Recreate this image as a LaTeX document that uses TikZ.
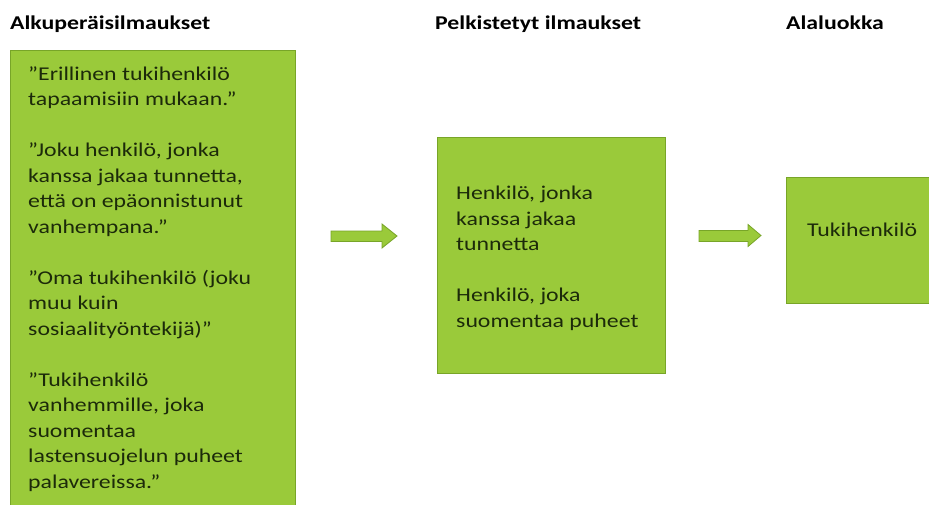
\documentclass[tikz,border=0pt]{standalone}
\usepackage{fontspec}
\setmainfont{Carlito}[FakeStretch=1.22]
\definecolor{boxgreen}{RGB}{154,202,58}
\definecolor{boxline}{RGB}{120,165,40}
\definecolor{textdark}{RGB}{28,42,10}
\begin{document}
\begin{tikzpicture}[x=1pt,y=-1pt,
  box/.style={draw=boxline, fill=boxgreen, line width=1pt},
  blockarrow/.style={draw=boxline, fill=boxgreen, line width=0.8pt, line join=miter},
  body/.style={anchor=base west, inner sep=0pt, align=left, text=textdark,
    font=\fontsize{19.5}{25.5}\selectfont},
  head/.style={anchor=base west, inner sep=0pt, text=black,
    font=\bfseries\fontsize{19.5}{24}\selectfont}]
\useasboundingbox (0,0) rectangle (929,504);
\clip (0,0) rectangle (929,504);
\fill[white] (0,0) rectangle (929,504);
% headers
\node[head] (h1) at (10,29) {Alkuperäisilmaukset};
\node[head] (h2) at (435,29) {Pelkistetyt ilmaukset};
\node[head] (h3) at (786,29) {Alaluokka};
% boxes
\draw[box] (10,50) rectangle (295,520);
\draw[box] (437,137) rectangle (665,373);
\draw[box] (786,177) rectangle (940,303);
% texts (anchored at the baseline of their last line)
\node[body] (t1) at (28,488) {”Erillinen tukihenkilö\\
tapaamisiin mukaan.”\\[25.5pt]
”Joku henkilö, jonka\\
kanssa jakaa tunnetta,\\
että on epäonnistunut\\
vanhempana.”\\[25.5pt]
”Oma tukihenkilö (joku\\
muu kuin\\
sosiaalityöntekijä)”\\[25.5pt]
”Tukihenkilö\\
vanhemmille, joka\\
suomentaa\\
lastensuojelun puheet\\
palavereissa.”};
\node[body] (t2) at (456,327) {Henkilö, jonka\\
kanssa jakaa\\
tunnetta\\[25.5pt]
Henkilö, joka\\
suomentaa puheet};
\node[body] (t3) at (807,236) {Tukihenkilö};
% block arrows
\draw[blockarrow] (331,231) -- (382,231) -- (382,224) -- (397,236) -- (382,248)
  -- (382,241.5) -- (331,241.5) -- cycle;
\draw[blockarrow] (699,230.5) -- (748,230.5) -- (748,224.5) -- (761,235.5) -- (748,246.5)
  -- (748,241.5) -- (699,241.5) -- cycle;
\end{tikzpicture}
\end{document}
